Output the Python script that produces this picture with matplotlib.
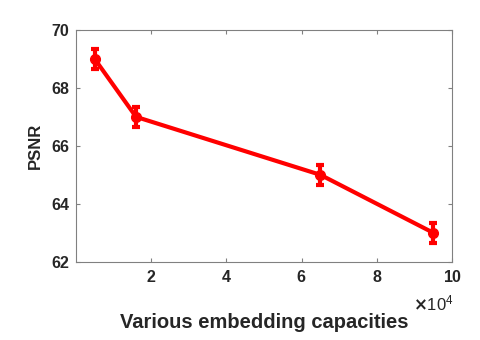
"""PSNR vs embedding capacity, MATLAB-style line plot with error bars."""

import matplotlib
matplotlib.use("Agg")
import matplotlib.pyplot as plt
from matplotlib.ticker import ScalarFormatter

capacity = [5000, 16000, 65000, 95000]
psnr = [69.0, 67.0, 65.0, 63.0]
psnr_err = [0.35, 0.35, 0.35, 0.35]

x_ticks = [20000, 40000, 60000, 80000, 100000]
y_ticks = [62, 64, 66, 68, 70]

plt.rcParams.update({
    "font.family": "Liberation Sans",
    "font.weight": "bold",
    "axes.edgecolor": "#808080",
    "axes.linewidth": 0.8,
    "xtick.color": "#808080",
    "ytick.color": "#808080",
    "xtick.labelcolor": "#262626",
    "ytick.labelcolor": "#262626",
})

fig = plt.figure(figsize=(4.8, 3.4), dpi=100)
ax = fig.add_axes([0.158, 0.230, 0.784, 0.682])

ax.errorbar(capacity, psnr, yerr=psnr_err, color="#ff0000", lw=3.0,
            marker="o", ms=7, elinewidth=3.0, capsize=3, capthick=3.0)

ax.set_xlim(0, 100000)
ax.set_ylim(62, 70)
ax.set_xticks(x_ticks)
ax.set_yticks(y_ticks)

# fixed exponent 10^4, drawn by hand below the axis like MATLAB does
fmt = ScalarFormatter(useMathText=True)
fmt.set_powerlimits((4, 4))
ax.xaxis.set_major_formatter(fmt)
ax.xaxis.get_offset_text().set_visible(False)
ax.text(1.003, -0.21, r"$\times\mathregular{10^{4}}$", transform=ax.transAxes,
        ha="right", va="baseline", fontsize=12, fontweight="normal",
        color="#262626")

ax.tick_params(direction="in", length=3, width=0.8, labelsize=11.5,
               top=True, right=True, pad=5)
for lab in ax.get_xticklabels() + ax.get_yticklabels():
    lab.set_fontweight("bold")

ax.set_xlabel("Various embedding capacities", fontsize=14.5, fontweight="bold",
              color="#262626", labelpad=20)
ax.set_ylabel("PSNR", fontsize=12, fontweight="bold", color="#262626",
              labelpad=6)

fig.savefig("out.png", dpi=100)
